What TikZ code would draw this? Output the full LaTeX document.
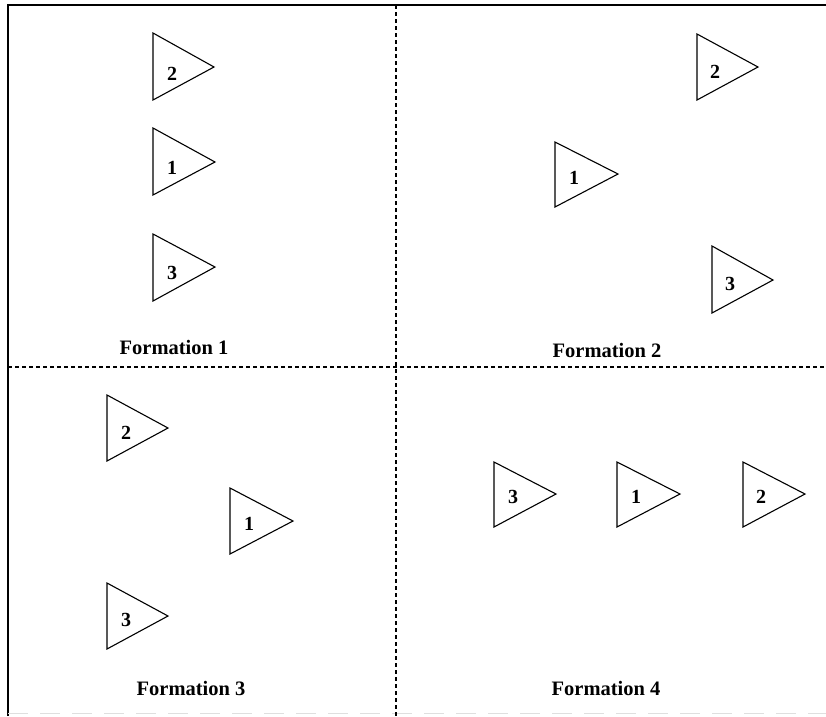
\documentclass[tikz,border=0pt]{standalone}
\usepackage{fontspec}
\setmainfont{Liberation Serif}
\begin{document}
\begin{tikzpicture}[x=1pt,y=-1pt,
  tri/.style={line width=1.1pt,line join=miter},
  num/.style={font=\fontsize{20}{20}\selectfont\bfseries,inner sep=0pt},
  caption/.style={font=\fontsize{20.5}{20.5}\selectfont\bfseries,inner sep=0pt},
  divider/.style={line width=1.2pt,dash pattern=on 4pt off 3pt},
  frame/.style={line width=1.4pt}]
\useasboundingbox (0,0) rectangle (826,716);
\fill[white] (0,0) rectangle (826,716);
% frame
\draw[frame] (8,716) -- (8,5) -- (826,5);
\draw[gray!25,line width=1pt,dash pattern=on 20pt off 12pt] (8,713) -- (826,713);
% dividers
\draw[divider] (396,5) -- (396,716);
\draw[divider] (8,367) -- (826,367);
% Formation 1
\draw[tri] (153,33) -- (153,100) -- (214,67) -- cycle;
\node[num] (a2) at (172,74) {2};
\draw[tri] (153,128) -- (153,195) -- (215,162) -- cycle;
\node[num] (a1) at (172,168) {1};
\draw[tri] (153,234) -- (153,301) -- (215,267) -- cycle;
\node[num] (a3) at (172,273) {3};
\node[caption] (fa) at (174,347) {Formation 1};
% Formation 2
\draw[tri] (697,34) -- (697,100) -- (758,67) -- cycle;
\node[num] (b2) at (715,72) {2};
\draw[tri] (555,142) -- (555,207) -- (618,174) -- cycle;
\node[num] (b1) at (574,178) {1};
\draw[tri] (712,246) -- (712,313) -- (773,280) -- cycle;
\node[num] (b3) at (730,284) {3};
\node[caption] (fb) at (607,350) {Formation 2};
% Formation 3
\draw[tri] (107,395) -- (107,461) -- (168,428) -- cycle;
\node[num] (c2) at (126,433) {2};
\draw[tri] (230,488) -- (230,554) -- (293,521) -- cycle;
\node[num] (c1) at (249,524) {1};
\draw[tri] (107,583) -- (107,649) -- (168,616) -- cycle;
\node[num] (c3) at (126,620) {3};
\node[caption] (fc) at (191,688) {Formation 3};
% Formation 4
\draw[tri] (494,462) -- (494,527) -- (556,494) -- cycle;
\node[num] (d3) at (513,497) {3};
\draw[tri] (617,462) -- (617,527) -- (680,494) -- cycle;
\node[num] (d1) at (636,497) {1};
\draw[tri] (743,462) -- (743,527) -- (805,494) -- cycle;
\node[num] (d2) at (761,497) {2};
\node[caption] (fd) at (606,688) {Formation 4};
\end{tikzpicture}
\end{document}
